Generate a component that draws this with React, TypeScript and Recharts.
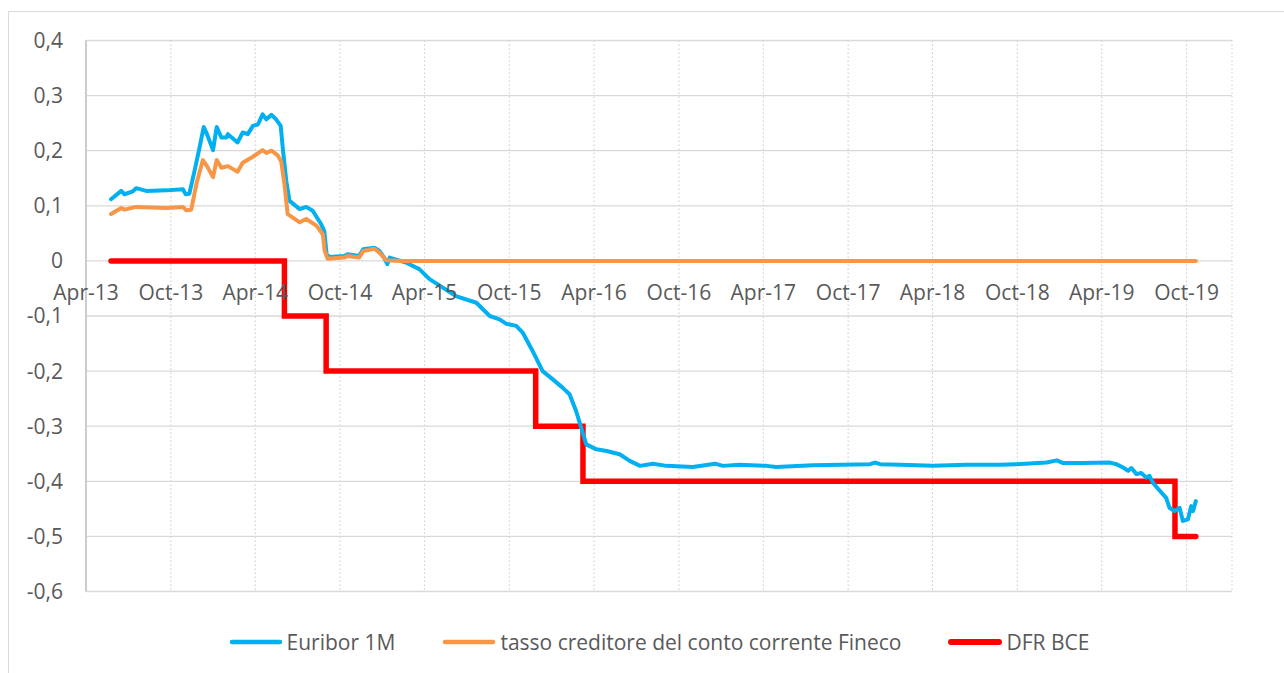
import React from "react";
import {
  LineChart,
  Line,
  XAxis,
  YAxis,
  CartesianGrid,
  Legend,
} from "recharts";

// Colours close to the Excel 2007 palette
const COLORS = {
  euribor: "#00b0f0",
  fineco: "#f79646",
  dfr: "#ff0000",
  grid: "#d9d9d9",
  gridDots: "#c8c8c8",
  axis: "#bfbfbf",
  text: "#595959",
};

// Euribor 1M
const EURIBOR_1M: [string, number][] = [
  ["2013-05-25", 0.112], ["2013-06-16", 0.127], ["2013-06-23", 0.121],
  ["2013-07-11", 0.126], ["2013-07-18", 0.132], ["2013-08-09", 0.127],
  ["2013-09-21", 0.128], ["2013-10-27", 0.13], ["2013-11-02", 0.121],
  ["2013-11-10", 0.122], ["2013-11-21", 0.163], ["2013-12-02", 0.206],
  ["2013-12-11", 0.243], ["2013-12-18", 0.23], ["2013-12-31", 0.201],
  ["2014-01-08", 0.243], ["2014-01-18", 0.224], ["2014-01-29", 0.224],
  ["2014-02-01", 0.23], ["2014-02-22", 0.215], ["2014-03-05", 0.233],
  ["2014-03-16", 0.23], ["2014-03-27", 0.245], ["2014-04-07", 0.248],
  ["2014-04-17", 0.266], ["2014-04-25", 0.257], ["2014-05-06", 0.265],
  ["2014-05-16", 0.257], ["2014-05-26", 0.245], ["2014-05-31", 0.2],
  ["2014-06-07", 0.145], ["2014-06-14", 0.109], ["2014-07-06", 0.094],
  ["2014-07-20", 0.098], ["2014-08-03", 0.091], ["2014-08-21", 0.067],
  ["2014-08-28", 0.054], ["2014-09-02", 0.012], ["2014-09-08", 0.007],
  ["2014-10-10", 0.009], ["2014-10-17", 0.012], ["2014-11-11", 0.009],
  ["2014-11-20", 0.021], ["2014-12-14", 0.024], ["2014-12-25", 0.018],
  ["2015-01-04", 0.006], ["2015-01-11", -0.006], ["2015-01-16", 0.006],
  ["2015-02-20", -0.003], ["2015-03-21", -0.015], ["2015-04-12", -0.033],
  ["2015-05-10", -0.048], ["2015-06-08", -0.064], ["2015-07-22", -0.076],
  ["2015-08-20", -0.1], ["2015-09-10", -0.106], ["2015-09-24", -0.114],
  ["2015-10-16", -0.118], ["2015-10-30", -0.13], ["2015-11-20", -0.163],
  ["2015-12-12", -0.2], ["2016-01-03", -0.215], ["2016-01-24", -0.23],
  ["2016-02-08", -0.242], ["2016-02-22", -0.272], ["2016-03-04", -0.302],
  ["2016-03-15", -0.333], ["2016-04-06", -0.342], ["2016-04-28", -0.345],
  ["2016-05-26", -0.351], ["2016-06-17", -0.363], ["2016-07-09", -0.372],
  ["2016-08-06", -0.368], ["2016-09-04", -0.372], ["2016-10-31", -0.374],
  ["2016-12-18", -0.368], ["2017-01-04", -0.372], ["2017-02-09", -0.37],
  ["2017-04-08", -0.372], ["2017-04-29", -0.374], ["2017-07-17", -0.371],
  ["2017-11-17", -0.369], ["2017-11-28", -0.366], ["2017-12-09", -0.369],
  ["2018-01-21", -0.37], ["2018-04-02", -0.372], ["2018-06-13", -0.37],
  ["2018-08-24", -0.37], ["2018-09-29", -0.369], ["2018-12-03", -0.366],
  ["2018-12-25", -0.362], ["2019-01-08", -0.367], ["2019-02-20", -0.367],
  ["2019-04-19", -0.366], ["2019-05-03", -0.369], ["2019-05-17", -0.375],
  ["2019-05-28", -0.381], ["2019-06-04", -0.376], ["2019-06-15", -0.387],
  ["2019-06-25", -0.385], ["2019-07-06", -0.393], ["2019-07-13", -0.39],
  ["2019-07-20", -0.402], ["2019-08-04", -0.417], ["2019-08-18", -0.43],
  ["2019-08-25", -0.448], ["2019-09-05", -0.454], ["2019-09-16", -0.448],
  ["2019-09-23", -0.472], ["2019-10-04", -0.469], ["2019-10-11", -0.445],
  ["2019-10-15", -0.454], ["2019-10-21", -0.436],
];

// tasso creditore del conto corrente Fineco
const FINECO_RATE: [string, number][] = [
  ["2013-05-25", 0.085], ["2013-06-16", 0.096], ["2013-06-23", 0.093],
  ["2013-07-18", 0.098], ["2013-09-21", 0.096], ["2013-10-27", 0.098],
  ["2013-11-03", 0.092], ["2013-11-14", 0.093], ["2013-11-25", 0.139],
  ["2013-12-09", 0.183], ["2013-12-18", 0.172], ["2013-12-31", 0.152],
  ["2014-01-08", 0.183], ["2014-01-18", 0.169], ["2014-02-01", 0.172],
  ["2014-02-22", 0.162], ["2014-03-05", 0.178], ["2014-03-27", 0.189],
  ["2014-04-17", 0.201], ["2014-04-25", 0.196], ["2014-05-06", 0.2],
  ["2014-05-19", 0.192], ["2014-05-27", 0.181], ["2014-06-03", 0.14],
  ["2014-06-10", 0.085], ["2014-07-06", 0.07], ["2014-07-20", 0.076],
  ["2014-08-11", 0.064], ["2014-08-25", 0.048], ["2014-08-29", 0.018],
  ["2014-09-04", 0.004], ["2014-10-10", 0.006], ["2014-10-17", 0.009],
  ["2014-11-11", 0.006], ["2014-11-20", 0.018], ["2014-12-14", 0.022],
  ["2014-12-25", 0.015], ["2015-01-09", 0.001], ["2015-02-14", 0],
  ["2019-10-21", 0],
];

// DFR BCE (deposit facility rate, step changes)
const DFR_BCE: [string, number][] = [
  ["2013-05-25", 0], ["2014-06-03", -0.1], ["2014-09-01", -0.2],
  ["2015-11-27", -0.3], ["2016-03-08", -0.4], ["2019-09-06", -0.5],
  ["2019-10-21", -0.5],
];

const Y_TICKS = [0.4, 0.3, 0.2, 0.1, 0, -0.1, -0.2, -0.3, -0.4, -0.5, -0.6];
const TICK_YEARS = [2013, 2014, 2015, 2016, 2017, 2018, 2019];
const MONTH_LABELS = ["Apr", "Oct"];

const LEGEND_ITEMS = [
  { label: "Euribor 1M", color: COLORS.euribor, width: 4.5 },
  { label: "tasso creditore del conto corrente Fineco", color: COLORS.fineco, width: 4.5 },
  { label: "DFR BCE", color: COLORS.dfr, width: 6 },
];

const toPoints = (rows: [string, number][]) =>
  rows.map(([d, v]) => ({ t: Date.parse(d), v }));

const X_TICKS = TICK_YEARS.flatMap((y) => [Date.UTC(y, 3, 1), Date.UTC(y, 9, 1)]);
const X_DOMAIN = [Date.UTC(2013, 3, 1), Date.UTC(2020, 0, 7)];

// chart geometry
const WIDTH = 1276;
const HEIGHT = 662;
const X_AXIS_H = 30;
const MARGIN = { top: 29.5, right: 52, bottom: 81.5 - X_AXIS_H, left: 18 };
const PLOT_H = HEIGHT - MARGIN.top - MARGIN.bottom - X_AXIS_H;
const Y_MIN = -0.6;
const Y_MAX = 0.4;
// the date labels sit just under the zero line, like Excel's crossing axis
const ZERO_SHIFT = (PLOT_H * (0 - Y_MIN)) / (Y_MAX - Y_MIN);
const FONT = 21;

const fmtDate = (t: number) => {
  const d = new Date(t);
  const m = d.getUTCMonth() === 3 ? MONTH_LABELS[0] : MONTH_LABELS[1];
  return `${m}-${String(d.getUTCFullYear()).slice(2)}`;
};

const fmtRate = (v: number) =>
  Math.abs(v) < 1e-9 ? "0" : v.toFixed(1).replace(".", ",");

const DateTick = (props: any) => {
  const { x, y, payload } = props;
  return (
    <text
      x={x}
      y={y - ZERO_SHIFT + 39}
      textAnchor="middle"
      fill={COLORS.text}
      fontSize={FONT}
    >
      {fmtDate(payload.value)}
    </text>
  );
};

const LegendContent = () => (
  <div
    style={{
      display: "flex",
      justifyContent: "center",
      alignItems: "center",
      fontSize: FONT,
      color: COLORS.text,
    }}
  >
    {LEGEND_ITEMS.map((item, i) => (
      <div
        key={item.label}
        style={{
          display: "flex",
          alignItems: "center",
          marginLeft: i === 0 ? 0 : 47,
        }}
      >
        <svg width={54} height={12} style={{ marginRight: 4 }}>
          <line
            x1={3}
            x2={51}
            y1={6}
            y2={6}
            stroke={item.color}
            strokeWidth={item.width}
            strokeLinecap="round"
          />
        </svg>
        <span style={{ whiteSpace: "nowrap" }}>{item.label}</span>
      </div>
    ))}
  </div>
);

export default function App() {
  const euribor = toPoints(EURIBOR_1M);
  const fineco = toPoints(FINECO_RATE);
  const dfr = toPoints(DFR_BCE);

  return (
    <div
      style={{
        position: "absolute",
        top: 11,
        left: 8,
        width: WIDTH,
        height: HEIGHT,
        fontFamily: '"Open Sans", sans-serif',
      }}
    >
      <div
        style={{
          position: "absolute",
          top: 0,
          left: 0,
          width: WIDTH + 20,
          height: HEIGHT + 20,
          border: `1px solid ${COLORS.grid}`,
        }}
      />
      <LineChart width={WIDTH} height={HEIGHT} margin={MARGIN}>
        <CartesianGrid
          horizontal={false}
          vertical={true}
          stroke={COLORS.gridDots}
          strokeDasharray="1.5 2.5"
        />
        <CartesianGrid
          horizontal={true}
          vertical={false}
          stroke={COLORS.grid}
          strokeWidth={1.3}
        />
        <XAxis
          type="number"
          dataKey="t"
          domain={X_DOMAIN}
          ticks={X_TICKS}
          allowDataOverflow
          height={X_AXIS_H}
          axisLine={false}
          tickLine={false}
          tickSize={0}
          tickMargin={0}
          tick={DateTick}
          interval={0}
        />
        <YAxis
          type="number"
          domain={[Y_MIN, Y_MAX]}
          ticks={Y_TICKS}
          interval={0}
          width={60}
          tickFormatter={fmtRate}
          axisLine={{ stroke: COLORS.axis, strokeWidth: 1.5 }}
          tickLine={false}
          tickSize={0}
          tickMargin={23}
          tick={{ fill: COLORS.text, fontSize: FONT }}
        />
        <Legend
          verticalAlign="middle"
          align="center"
          layout="horizontal"
          wrapperStyle={{ top: 617, left: MARGIN.left + 60, width: WIDTH - MARGIN.left - 60 - MARGIN.right }}
          content={<LegendContent />}
        />
        <Line
          data={dfr}
          dataKey="v"
          type="stepAfter"
          stroke={COLORS.dfr}
          strokeWidth={5.5}
          strokeLinecap="round"
          strokeLinejoin="miter"
          dot={false}
          isAnimationActive={false}
          name="DFR BCE"
        />
        <Line
          data={euribor}
          dataKey="v"
          type="linear"
          stroke={COLORS.euribor}
          strokeWidth={4}
          strokeLinejoin="round"
          strokeLinecap="round"
          dot={false}
          isAnimationActive={false}
          name="Euribor 1M"
        />
        <Line
          data={fineco}
          dataKey="v"
          type="linear"
          stroke={COLORS.fineco}
          strokeWidth={4}
          strokeLinejoin="round"
          strokeLinecap="round"
          dot={false}
          isAnimationActive={false}
          name="tasso creditore del conto corrente Fineco"
        />
      </LineChart>
    </div>
  );
}
